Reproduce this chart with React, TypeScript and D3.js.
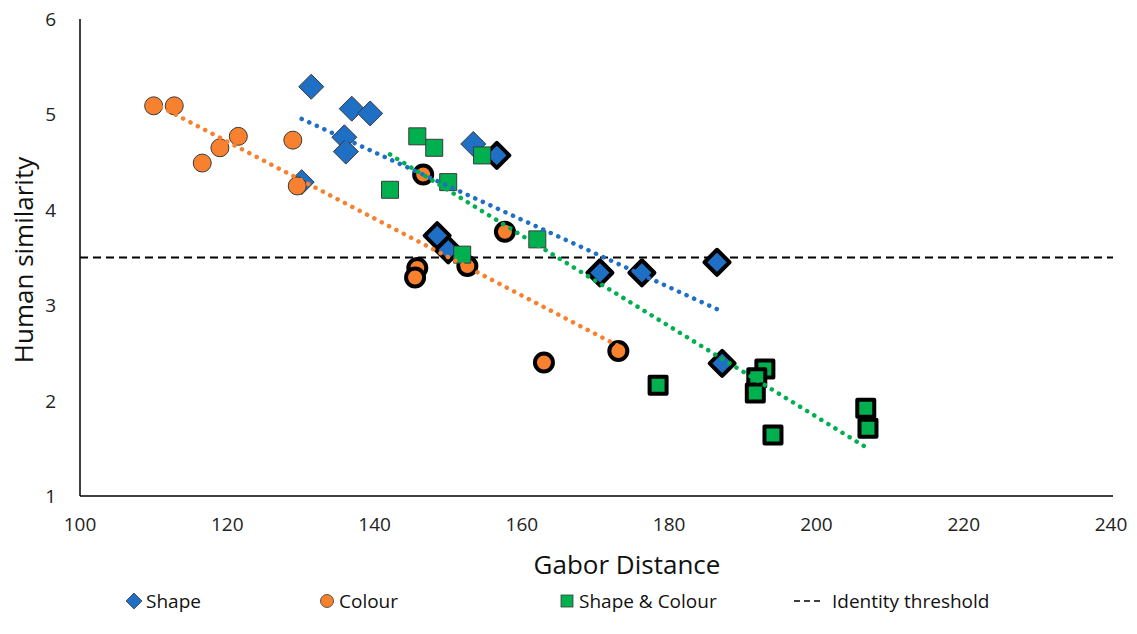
import React from 'react';
import * as d3 from 'd3';

// values
const shapeX = [131.4, 136.9, 139.4, 135.9, 136.1, 130.1, 153.4, 156.6, 148.5, 150.0, 170.6, 176.3, 186.5, 187.2];
const shapeY = [5.29, 5.06, 5.01, 4.76, 4.61, 4.29, 4.69, 4.57, 3.73, 3.58, 3.34, 3.34, 3.45, 2.39];
const shapeBold = [0, 0, 0, 0, 0, 0, 0, 1, 1, 1, 1, 1, 1, 1];

const colourX = [110.0, 112.8, 116.6, 119.0, 121.5, 128.9, 129.5, 146.6, 157.7, 145.8, 145.5, 152.6, 163.0, 173.1];
const colourY = [5.09, 5.09, 4.49, 4.65, 4.77, 4.73, 4.25, 4.37, 3.77, 3.39, 3.29, 3.41, 2.40, 2.52];
const colourBold = [0, 0, 0, 0, 0, 0, 0, 1, 1, 1, 1, 1, 1, 1];

const bothX = [145.8, 148.1, 142.1, 150.0, 154.6, 151.9, 162.1, 178.5, 193.0, 191.9, 191.7, 194.1, 206.7, 207.0];
const bothY = [4.77, 4.65, 4.21, 4.29, 4.57, 3.53, 3.69, 2.16, 2.33, 2.24, 2.08, 1.64, 1.92, 1.71];
const bothBold = [0, 0, 0, 0, 0, 0, 0, 1, 1, 1, 1, 1, 1, 1];

const xTicks = [100, 120, 140, 160, 180, 200, 220, 240];
const yTicks = [1, 2, 3, 4, 5, 6];
const threshold = 3.5;

const BLUE = '#1f6fc5';
const ORANGE = '#f7812e';
const GREEN = '#00b04f';
const FONT = '"Open Sans", sans-serif';

const W = 1137;
const H = 634;

const x = d3.scaleLinear().domain([100, 240]).range([80, 1111]);
const y = d3.scaleLinear().domain([1, 6]).range([496, 19]);

// least squares line, drawn between the smallest and largest x like Excel does
function trend(xs: number[], ys: number[]) {
  const mx = d3.mean(xs)!;
  const my = d3.mean(ys)!;
  let sxy = 0, sxx = 0;
  xs.forEach((v, i) => {
    sxy += (v - mx) * (ys[i] - my);
    sxx += (v - mx) * (v - mx);
  });
  const b = sxy / sxx;
  const [x0, x1] = d3.extent(xs) as [number, number];
  return [[x0, my + b * (x0 - mx)], [x1, my + b * (x1 - mx)]] as [number, number][];
}

const line = d3.line<[number, number]>().x(d => x(d[0])).y(d => y(d[1]));

const Marker = ({ kind, cx, cy, bold, color }: any) => {
  const stroke = bold ? '#000' : '#3a3a3a';
  const sw = bold ? 4 : 1;
  if (kind === 'diamond') {
    const r = 12.5;
    return <path d={`M${cx},${cy - r}L${cx + r},${cy}L${cx},${cy + r}L${cx - r},${cy}Z`} fill={color} stroke={stroke} strokeWidth={sw} strokeLinejoin="round" />;
  }
  if (kind === 'circle') {
    return <circle cx={cx} cy={cy} r={9} fill={color} stroke={stroke} strokeWidth={sw} />;
  }
  const s = 8.5;
  return <rect x={cx - s} y={cy - s} width={2 * s} height={2 * s} fill={color} stroke={stroke} strokeWidth={sw} strokeLinejoin="round" />;
};

const series = [
  { kind: 'diamond', xs: shapeX, ys: shapeY, bold: shapeBold, color: BLUE },
  { kind: 'circle', xs: colourX, ys: colourY, bold: colourBold, color: ORANGE },
  { kind: 'square', xs: bothX, ys: bothY, bold: bothBold, color: GREEN },
];

const legend = [
  { kind: 'diamond', label: 'Shape', color: BLUE, at: 134 },
  { kind: 'circle', label: 'Colour', color: ORANGE, at: 327 },
  { kind: 'square', label: 'Shape & Colour', color: GREEN, at: 567 },
];

export default function App() {
  return (
    <svg width={W} height={H} style={{ position: 'absolute', left: 0, top: 0, background: '#fff' }} fontFamily={FONT}>
      {/* threshold */}
      <line x1={x(100)} x2={x(240) + 2} y1={y(threshold)} y2={y(threshold)} stroke="#000" strokeWidth={2} strokeDasharray="8 5" />

      {/* axes */}
      <line x1={x(100)} x2={x(100)} y1={y(6)} y2={y(1)} stroke="#000" strokeWidth={1.5} />
      <line x1={x(100)} x2={x(240) + 2} y1={y(1)} y2={y(1)} stroke="#000" strokeWidth={1.5} />

      {xTicks.map(t => (
        <text key={t} x={x(t)} y={524} textAnchor="middle" dominantBaseline="central" fontSize={19} fill="#222">{t}</text>
      ))}
      {yTicks.map(t => (
        <text key={t} x={56} y={y(t)} textAnchor="end" dominantBaseline="central" fontSize={19} fill="#222">{t}</text>
      ))}

      <text x={627} y={564} textAnchor="middle" dominantBaseline="central" fontSize={26} fill="#111">Gabor Distance</text>
      <text transform={`translate(23,260) rotate(-90)`} textAnchor="middle" dominantBaseline="central" fontSize={26} fill="#111">Human similarity</text>

      {/* markers */}
      {series.map(s => (
        <g key={s.kind}>
          {s.xs.map((v, i) => (
            <Marker key={i} kind={s.kind} cx={x(v)} cy={y(s.ys[i])} bold={s.bold[i]} color={s.color} />
          ))}
        </g>
      ))}

      {/* trend lines */}
      {series.map(s => (
        <path key={s.kind} d={line(trend(s.xs, s.ys))!} fill="none" stroke={s.color} strokeWidth={4.5} strokeDasharray="0.1 8.2" strokeLinecap="round" />
      ))}

      {/* legend */}
      {legend.map(l => (
        <g key={l.label}>
          {l.kind === 'diamond' && <path d={`M${l.at},${593}L${l.at + 8},${601}L${l.at},${609}L${l.at - 8},${601}Z`} fill={l.color} stroke="#3a3a3a" strokeWidth={0.8} />}
          {l.kind === 'circle' && <circle cx={l.at} cy={601} r={6.5} fill={l.color} stroke="#3a3a3a" strokeWidth={0.8} />}
          {l.kind === 'square' && <rect x={l.at - 6} y={595} width={12} height={12} fill={l.color} stroke="#3a3a3a" strokeWidth={0.8} />}
          <text x={l.at + 12} y={601} dominantBaseline="central" fontSize={19} fill="#111">{l.label}</text>
        </g>
      ))}
      <line x1={794} x2={822} y1={601} y2={601} stroke="#000" strokeWidth={1.5} strokeDasharray="6 4" />
      <text x={832} y={601} dominantBaseline="central" fontSize={19} fill="#111">Identity threshold</text>
    </svg>
  );
}
